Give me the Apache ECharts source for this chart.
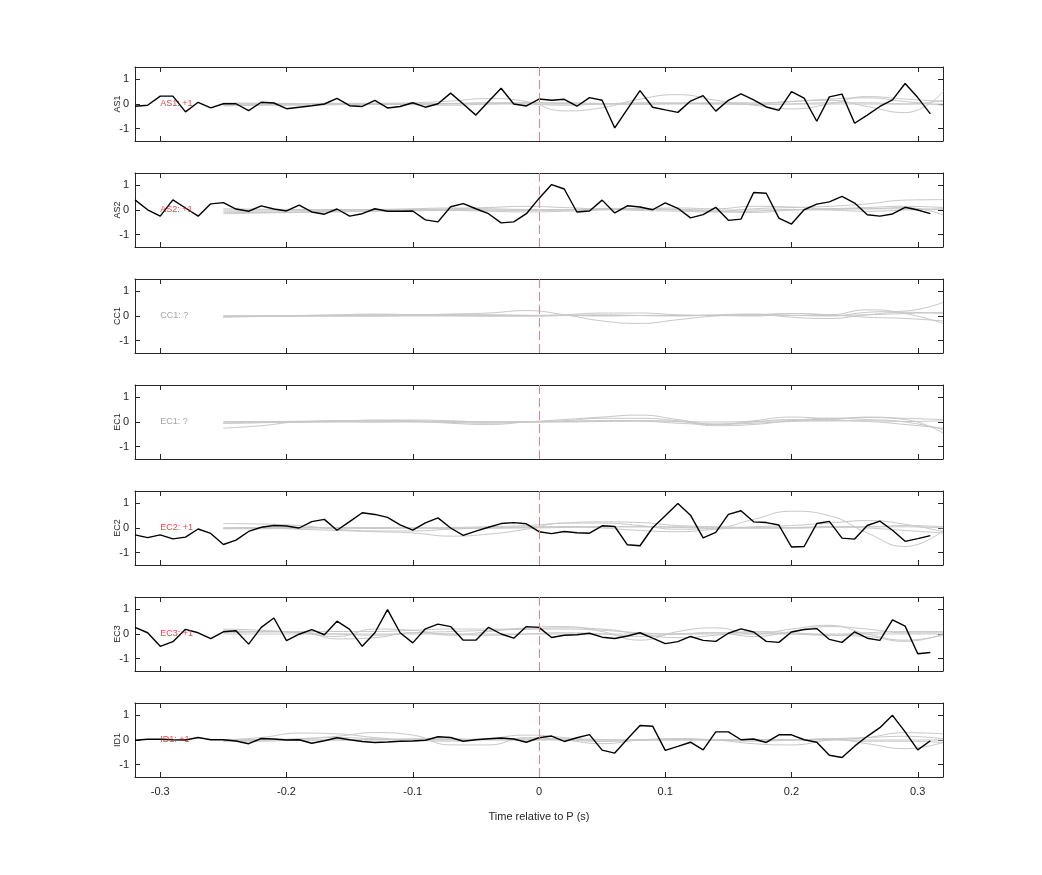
<!DOCTYPE html>
<html>
<head>
<meta charset="utf-8">
<script src="https://cdn.jsdelivr.net/npm/echarts@6/dist/echarts.min.js"></script>
<style>html,body{margin:0;padding:0;background:#fff;}#main{width:1042px;height:875px;}</style>
</head>
<body>
<div id="main"></div>
<script>
// ---- data ----
const stations = ['AS1', 'AS2', 'CC1', 'EC1', 'EC2', 'EC3', 'ID1'];
const polarityText = ['AS1: +1', 'AS2: +1', 'CC1: ?', 'EC1: ?', 'EC2: +1', 'EC3: +1', 'ID1: +1'];
const xTicks = [-0.3, -0.2, -0.1, 0, 0.1, 0.2, 0.3];
const yTicks = [-1, 0, 1];
const labelTime = -0.3;
const pickTime = 0;

const blackTimes = [-0.32,-0.31,-0.30,-0.29,-0.28,-0.27,-0.26,-0.25,-0.24,-0.23,-0.22,-0.21,-0.20,-0.19,-0.18,-0.17,
  -0.16,-0.15,-0.14,-0.13,-0.12,-0.11,-0.10,-0.09,-0.08,-0.07,-0.06,-0.05,-0.04,-0.03,-0.02,-0.01,
  0,0.01,0.02,0.03,0.04,0.05,0.06,0.07,0.08,0.09,0.10,0.11,0.12,0.13,0.14,0.15,
  0.16,0.17,0.18,0.19,0.20,0.21,0.22,0.23,0.24,0.25,0.26,0.27,0.28,0.29,0.30,0.31];
const grayTimes = [-0.25,-0.22,-0.19,-0.16,-0.13,-0.10,-0.07,-0.04,-0.01,0.02,0.05,0.08,0.11,0.14,0.17,0.20,0.23,0.26,0.29,0.32];

const as1Trace = [-0.09,-0.05,0.32,0.32,-0.32,0.07,-0.16,0.01,0.01,-0.27,0.07,0.04,-0.19,-0.13,-0.07,0.0,
  0.23,-0.07,-0.1,0.15,-0.16,-0.1,0.05,-0.13,0.01,0.44,0.0,-0.45,0.1,0.64,0.0,-0.08,
  0.2,0.15,0.19,-0.09,0.26,0.15,-0.97,-0.21,0.54,-0.13,-0.24,-0.34,0.12,0.34,-0.29,0.15,
  0.41,0.17,-0.12,-0.26,0.5,0.24,-0.7,0.29,0.4,-0.78,-0.45,-0.1,0.17,0.83,0.26,-0.4];
const as2Trace = [0.41,0.01,-0.25,0.41,0.08,-0.25,0.25,0.3,0.04,-0.05,0.17,0.04,-0.04,0.2,-0.08,-0.17,
  0.04,-0.25,-0.15,0.05,-0.05,-0.05,-0.04,-0.4,-0.48,0.13,0.26,0.05,-0.15,-0.52,-0.48,-0.15,
  0.47,1.03,0.85,-0.08,-0.04,0.4,-0.12,0.17,0.12,0.01,0.29,0.07,-0.32,-0.19,0.11,-0.42,
  -0.37,0.71,0.68,-0.33,-0.57,0.01,0.24,0.33,0.55,0.28,-0.19,-0.25,-0.16,0.11,0.0,-0.15];
const ec2Trace = [-0.28,-0.39,-0.28,-0.44,-0.37,-0.04,-0.22,-0.67,-0.49,-0.14,0.03,0.1,0.08,0.0,0.26,0.35,
  -0.09,0.26,0.62,0.55,0.43,0.13,-0.09,0.21,0.41,0.0,-0.3,-0.13,0.03,0.18,0.22,0.17,
  -0.15,-0.23,-0.14,-0.19,-0.21,0.09,0.06,-0.68,-0.72,0.01,0.5,0.99,0.52,-0.4,-0.18,0.55,
  0.7,0.25,0.22,0.12,-0.77,-0.75,0.18,0.27,-0.41,-0.45,0.1,0.28,-0.09,-0.54,-0.43,-0.31];
const ec3Trace = [0.27,0.05,-0.5,-0.31,0.19,0.05,-0.19,0.09,0.13,-0.41,0.27,0.65,-0.27,-0.01,0.18,-0.03,
  0.52,0.19,-0.5,0.05,0.99,0.05,-0.36,0.21,0.4,0.3,-0.25,-0.25,0.27,0.0,-0.17,0.3,
  0.27,-0.14,-0.05,-0.03,0.03,-0.13,-0.18,-0.08,0.05,-0.17,-0.39,-0.31,-0.1,-0.26,-0.3,0.03,
  0.21,0.08,-0.3,-0.34,0.08,0.18,0.22,-0.22,-0.34,0.09,-0.17,-0.26,0.57,0.32,-0.8,-0.75];
const id1Trace = [-0.01,0.03,0.03,0.01,0.0,0.1,0.01,0.01,-0.04,-0.15,0.06,0.04,0.0,0.01,-0.13,-0.03,
  0.09,0.01,-0.06,-0.1,-0.08,-0.05,-0.04,-0.01,0.13,0.1,-0.05,0.01,0.05,0.08,0.04,-0.09,
  0.09,0.16,-0.06,0.09,0.22,-0.41,-0.53,0.04,0.59,0.56,-0.42,-0.26,-0.09,-0.4,0.33,0.33,
  0.01,0.04,-0.1,0.21,0.21,0.01,-0.09,-0.62,-0.71,-0.25,0.15,0.5,1.0,0.33,-0.4,-0.03];

const as1Synth = [
  [0,0,0.01,0.03,0.03,0.05,0.12,0.22,0.1,-0.28,-0.15,0.2,0.38,0.15,-0.05,-0.2,0.0,0.3,0.2,0.1],
  [-0.05,-0.03,0,0.02,0,0,0.02,0.03,0.0,-0.05,0.0,0.05,0.05,0.0,0.0,0.1,0.15,-0.1,-0.35,0.5],
  [0.05,0.03,0.02,0.0,-0.02,0,0.02,0.05,0.05,0.02,0.0,0.0,0.02,0.05,0.05,0.1,0.2,0.25,0.1,-0.05],
  [-0.08,-0.05,-0.05,-0.03,-0.02,-0.03,-0.05,0.0,0.05,0.05,0.02,0.0,0.02,0.02,-0.02,0.0,0.05,0.05,0.0,0.15],
  [0,0,0,0,0,0,0,0,0,0,0,0,0,0,0,0,0,0,0,0]
];
const as2Synth = [
  [-0.1,-0.1,-0.08,-0.05,-0.03,0,0.05,0.1,0.15,0.1,0.05,0.05,0.0,-0.05,0.05,0.1,0.15,0.25,0.4,0.42],
  [-0.15,-0.12,-0.1,-0.08,-0.05,-0.03,-0.02,-0.05,-0.08,-0.05,0.0,0.05,0.08,0.05,0.15,0.12,0.05,0.05,0.1,-0.2],
  [0.05,0.03,0.02,0.0,0.02,0.05,0.08,0.05,0.02,0.0,0.05,0.05,0.02,-0.05,-0.1,0.0,0.05,0.1,0.15,0.1],
  [-0.05,-0.05,-0.03,-0.02,0,0,0.02,0.0,-0.02,0,0.02,-0.02,-0.05,-0.08,-0.05,0.02,0.0,-0.05,0.0,0.05],
  [0,0,0,0.02,0.02,0.02,0,0,0,0.02,0.02,0.03,0.02,0,0,0,0.02,0.05,0.05,0.02]
];
const cc1Synth = [
  [0,0,0.02,0.03,0.05,0.05,0.08,0.12,0.22,0.05,-0.2,-0.3,-0.15,0.0,0.05,0.03,0.0,0.15,0.2,0.55],
  [0,0,0,0,0.02,0.03,0.05,0.03,0.02,0.05,0.12,0.12,0.05,0.02,0.05,0.1,0.05,0.25,0.1,-0.3],
  [-0.03,0,0.02,0.05,0.08,0.05,0.02,0.0,0.0,0.02,0.05,0.02,0.0,0.05,0.08,-0.05,-0.1,0.05,0.15,0.1],
  [-0.05,-0.02,0,0.02,0,0.03,0.05,0.05,0.03,0.02,0.0,0.02,0.03,0.02,0.0,0.1,0.05,-0.05,-0.1,-0.2],
  [0,0,0,0,0,0,0,0,0,0.02,0.02,0.02,0.02,0.02,0.02,0.02,0.02,0.05,0.1,0.15]
];
const ec1Synth = [
  [-0.25,-0.15,0.0,0.02,0.08,0.05,-0.05,-0.1,0.0,0.1,0.2,0.28,0.1,-0.1,0.05,0.2,0.15,0.18,0.1,-0.45],
  [0.02,0.02,0.03,0.06,0.05,0.02,-0.02,-0.05,0.0,0.05,0.15,0.15,0.05,-0.15,-0.1,0.05,0.15,0.1,0.0,-0.3],
  [-0.05,-0.03,0,0.03,0.05,0.08,0.05,0.0,0.02,0.03,0.05,0.05,0.02,-0.08,0.0,0.1,0.1,0.2,0.15,0.1],
  [0,0,0,0,0,0,0,0,0,0.02,0.05,0.05,0.02,0.0,0.02,0.05,0.05,0.05,0.02,0.05],
  [-0.05,-0.02,0,0.02,0.0,0.03,0.02,0.0,0.0,0.0,0.02,0.03,-0.05,-0.1,-0.05,0.02,0.05,0.02,-0.1,-0.25]
];
const ec2Synth = [
  [0.0,0.0,-0.05,-0.1,-0.15,-0.2,-0.33,-0.25,-0.05,0.2,0.2,0.1,-0.05,0.0,0.35,0.68,0.5,-0.2,-0.75,-0.1],
  [0.18,0.16,0.1,-0.05,-0.12,-0.12,-0.05,0.0,0.02,0.05,0.0,-0.1,-0.15,-0.05,0.05,0.1,0.2,0.3,0.15,-0.15],
  [0.0,0.02,0.02,0.0,-0.02,0.0,0.02,0.05,0.1,0.2,0.25,0.22,0.1,0.05,0.02,0.0,0.05,0.05,0.1,0.05],
  [-0.03,-0.03,0.0,0.02,0.02,0.0,-0.02,0.0,0.0,0.02,0.05,0.05,0.05,0.0,0.0,0.02,0.05,0.0,-0.1,-0.2],
  [0,0,0,0,0,0,0,0,0.05,0.05,0.05,0.05,0.02,0.0,0.0,0.0,0.02,0.05,0.05,0.0]
];
const ec3Synth = [
  [0.2,0.15,0.05,-0.1,0.2,0.15,-0.05,0.1,0.25,0.3,0.1,-0.25,0.1,0.25,0.0,0.2,0.35,0.0,-0.25,-0.05],
  [0.1,0.1,0.05,0.0,-0.05,0.05,0.1,0.15,0.2,0.25,0.2,0.0,-0.15,-0.05,0.1,0.05,-0.05,-0.1,-0.3,0.0],
  [0.05,0.08,0.1,-0.2,-0.15,0.05,0.0,-0.05,0.0,0.05,0.0,-0.1,0.0,0.05,-0.1,0.1,0.3,0.2,0.05,0.05],
  [0.15,0.1,0.1,0.1,0.1,0.15,0.2,0.2,0.2,0.2,0.15,0.05,0.0,0.05,0.05,0.0,-0.05,0.05,0.1,0.1],
  [0,0,0,0,0,0,0,0,0,0,0,0,0,0,0,0,0,0,0,0]
];
const id1Synth = [
  [0.0,0.1,0.28,0.25,0.1,0.0,-0.05,0.05,0.2,0.1,-0.05,0.0,0.05,0.0,-0.15,-0.2,0.0,0.1,0.3,0.25],
  [0.0,0.0,0.05,0.15,0.3,0.2,-0.2,-0.2,0.1,0.0,-0.15,0.0,0.05,0.0,0.0,0.0,0.05,-0.15,-0.35,-0.1],
  [-0.05,0.0,0.05,0.1,0.05,0.0,0.0,0.05,0.05,0.0,-0.05,0.0,0.02,0.0,-0.05,0.0,0.05,0.1,0.15,0.05],
  [0.0,0.02,0.0,0.0,0.02,0.0,0.02,0.02,0.0,0.0,0.0,0.0,0.0,0.0,0.0,0.0,0.0,0.0,0.0,0.0],
  [-0.05,-0.05,0.0,0.0,0.0,0.05,0.05,0.0,0.0,0.05,0.02,0.0,0.0,0.0,0.02,0.02,0.02,-0.05,-0.05,-0.1]
];

const observedTraces = [as1Trace, as2Trace, null, null, ec2Trace, ec3Trace, id1Trace];
const syntheticTraces = [as1Synth, as2Synth, cc1Synth, ec1Synth, ec2Synth, ec3Synth, id1Synth];

// ---- build chart ----
const FONT = '"Liberation Sans", Arial, sans-serif';
const AX = '#262626';
const gridTop0 = 67, gridStep = 106, gridH = 74;
const grids = [], xAxes = [], yAxes = [], series = [];

stations.forEach((st, i) => {
  grids.push({ left: 135, right: 99, top: gridTop0 + gridStep * i, height: gridH, containLabel: false });
  const last = i === stations.length - 1;
  const xBase = {
    type: 'value', min: -0.32, max: 0.32, gridIndex: i,
    splitLine: { show: false },
    axisLine: { show: true, onZero: false, lineStyle: { color: AX, width: 1 } },
    axisTick: { show: true, inside: true, length: 5, customValues: xTicks, lineStyle: { color: AX } }
  };
  xAxes.push(Object.assign({}, xBase, {
    position: 'bottom',
    axisLabel: { show: last, customValues: xTicks, color: AX, fontSize: 11, fontFamily: FONT, margin: 9,
      formatter: v => (Math.round(v * 10) / 10).toString() },
    name: last ? 'Time relative to P (s)' : '', nameLocation: 'middle', nameGap: 34, nameMoveOverlap: false,
    nameTextStyle: { color: AX, fontSize: 11, fontFamily: FONT }
  }));
  xAxes.push(Object.assign({}, xBase, { position: 'top', axisLabel: { show: false } }));
  const yBase = {
    type: 'value', min: -1.5, max: 1.5, gridIndex: i,
    splitLine: { show: false },
    axisLine: { show: true, onZero: false, lineStyle: { color: AX, width: 1 } },
    axisTick: { show: true, inside: true, length: 5, customValues: yTicks, lineStyle: { color: AX } }
  };
  yAxes.push(Object.assign({}, yBase, {
    position: 'left',
    axisLabel: { show: true, customValues: yTicks, color: AX, fontSize: 11, fontFamily: FONT, margin: 6 },
    name: st, nameLocation: 'middle', nameGap: 13, nameRotate: 90, nameMoveOverlap: false,
    nameTextStyle: { color: AX, fontSize: 9, fontFamily: FONT }
  }));
  yAxes.push(Object.assign({}, yBase, { position: 'right', axisLabel: { show: false } }));

  syntheticTraces[i].forEach((tr, k) => {
    const s = {
      type: 'line', xAxisIndex: 2 * i, yAxisIndex: 2 * i,
      data: grayTimes.map((t, j) => [t, tr[j]]),
      smooth: 0.5, showSymbol: false, symbol: 'none', silent: true, z: 1,
      lineStyle: { color: '#c8c8c8', width: 1 }
    };
    if (k === 0) {
      s.markLine = {
        silent: true, symbol: 'none', label: { show: false },
        lineStyle: { color: '#ee8080', type: [9, 4], width: 1 },
        data: [{ xAxis: pickTime }]
      };
    }
    series.push(s);
  });

  if (observedTraces[i]) {
    series.push({
      type: 'line', xAxisIndex: 2 * i, yAxisIndex: 2 * i,
      data: blackTimes.map((t, j) => [t, observedTraces[i][j]]),
      showSymbol: false, symbol: 'none', silent: true, z: 3,
      lineStyle: { color: '#000', width: 1.4 }
    });
  }

  const unknown = polarityText[i].indexOf('?') >= 0;
  series.push({
    type: 'scatter', xAxisIndex: 2 * i, yAxisIndex: 2 * i, z: 4, silent: true,
    symbolSize: 0, data: [[labelTime, 0]],
    label: { show: true, position: 'right', distance: 0, formatter: polarityText[i],
      color: unknown ? '#8c8c8c' : '#e8141a', fontSize: 9, fontFamily: FONT }
  });
});

const chart = echarts.init(document.getElementById('main'), null, { renderer: 'canvas' });
chart.setOption({
  backgroundColor: '#ffffff',
  animation: false,
  grid: grids, xAxis: xAxes, yAxis: yAxes, series: series
});
</script>
</body>
</html>
